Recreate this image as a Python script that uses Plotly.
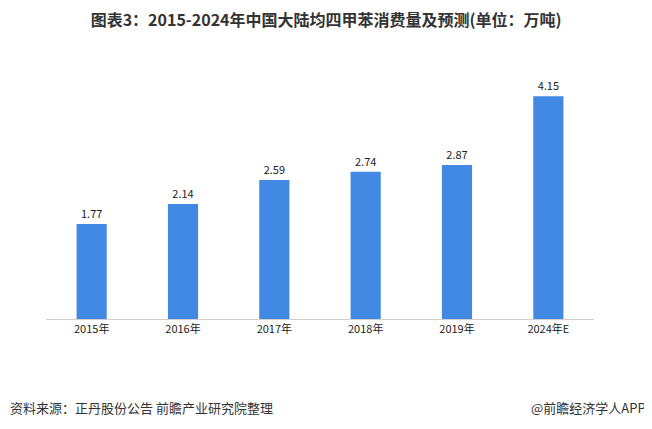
import plotly.graph_objects as go

categories = ["2015年", "2016年", "2017年", "2018年", "2019年", "2024年E"]
values = [1.77, 2.14, 2.59, 2.74, 2.87, 4.15]
value_labels = ["1.77", "2.14", "2.59", "2.74", "2.87", "4.15"]

font_family = "Noto Sans CJK SC, Microsoft YaHei, sans-serif"

fig = go.Figure(go.Bar(
    x=categories, y=values, width=0.33,
    marker=dict(color="#4189E2", line=dict(width=0)),
    text=value_labels, textposition="outside",
    textfont=dict(size=11, color="#222222", family=font_family),
    cliponaxis=False,
))

# the page body adds an 8px margin, so the figure is 8px smaller and content shifted
fig.update_layout(
    width=644, height=421,
    margin=dict(l=38, r=58, t=62, b=110, autoexpand=False),
    paper_bgcolor="white", plot_bgcolor="white",
    showlegend=False,
    font=dict(family=font_family, color="#222222"),
    title=dict(text="<b>图表3：2015-2024年中国大陆均四甲苯消费量及预测(单位：万吨)</b>",
               x=0.494, xanchor="center", y=0.9715, yanchor="middle",
               font=dict(size=16, color="#333333", family=font_family)),
    xaxis=dict(showline=True, linecolor="#d0d0d0", linewidth=1, ticks="",
               tickfont=dict(size=11, color="#222222")),
    yaxis=dict(visible=False, range=[0, 4.637], showgrid=False),
    annotations=[
        dict(text="资料来源：正丹股份公告 前瞻产业研究院整理", xref="paper", yref="paper",
             x=-0.069, y=-0.357, xanchor="left", yanchor="middle", showarrow=False,
             font=dict(size=13, color="#333333")),
        dict(text="@前瞻经济学人APP", xref="paper", yref="paper",
             x=1.099, y=-0.357, xanchor="right", yanchor="middle", showarrow=False,
             font=dict(size=13, color="#333333")),
    ],
)

fig.write_html("out.html")
